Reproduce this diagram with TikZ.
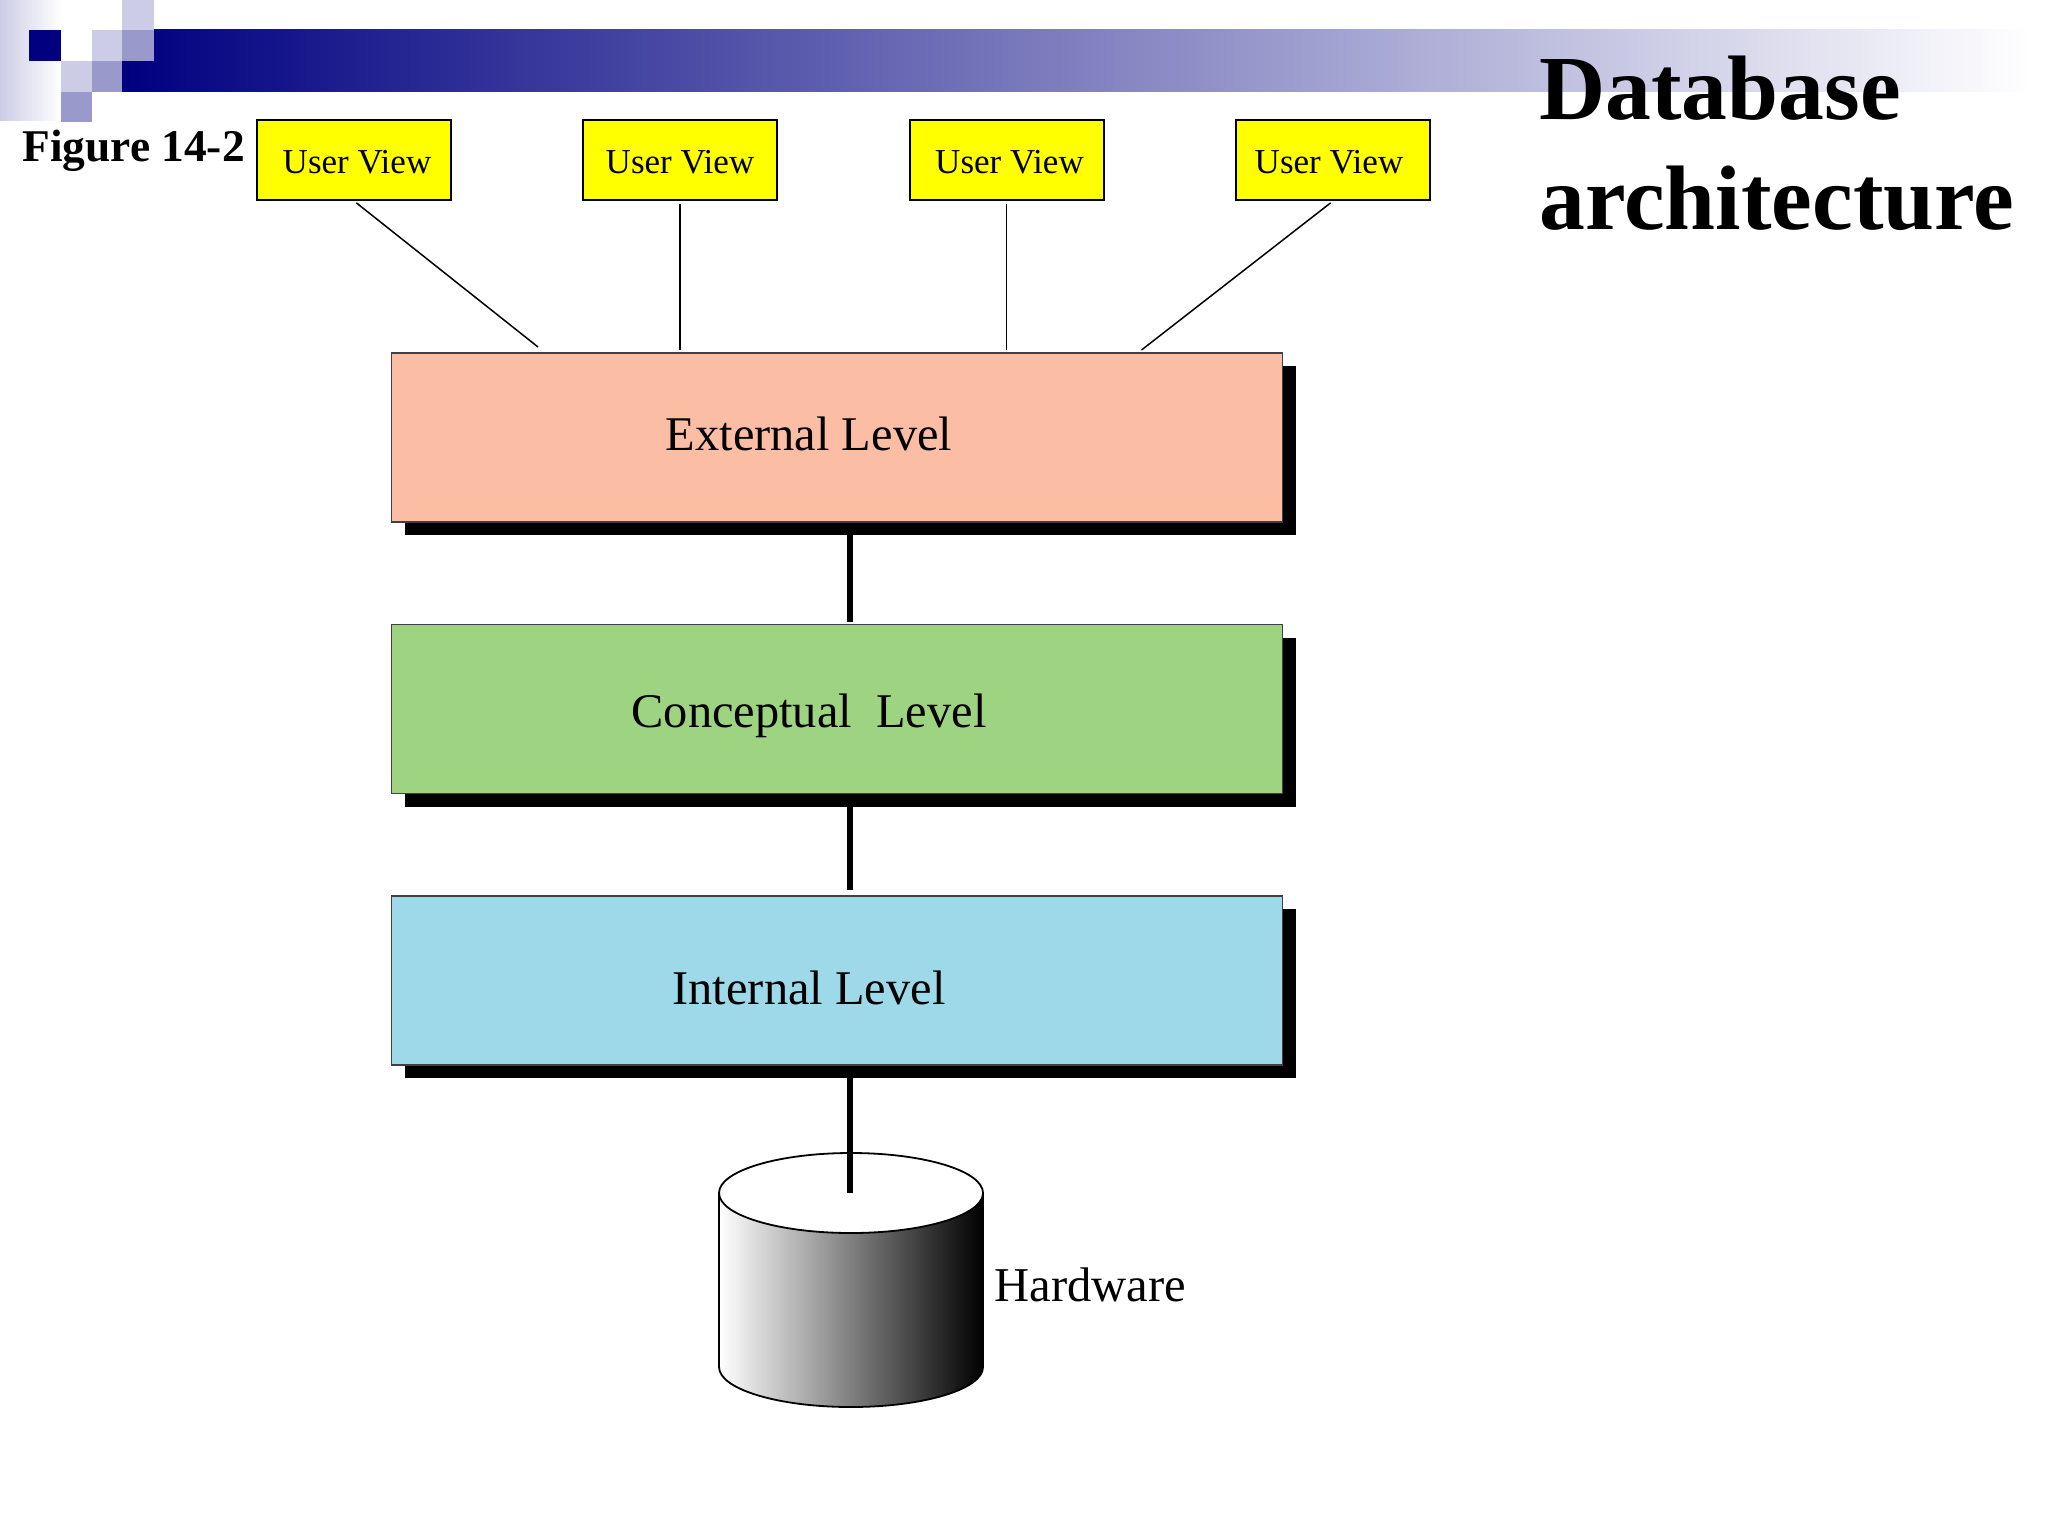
\documentclass[tikz,border=0pt]{standalone}
\usepackage{fontspec}
\setmainfont{Liberation Serif}
\usetikzlibrary{shapes.geometric,shadows}
\definecolor{barnavy}{HTML}{000080}
\definecolor{blockpale}{HTML}{CCCCE6}
\definecolor{blockmid}{HTML}{9999CC}
\definecolor{viewfill}{HTML}{FFFF00}
\definecolor{extfill}{HTML}{FCBDA5}
\definecolor{confill}{HTML}{9ED481}
\definecolor{intfill}{HTML}{9DD9E9}
\tikzset{
  viewbox/.style={draw=black,line width=1pt,fill=viewfill,inner sep=0pt,minimum width=97pt,minimum height=40pt,
    font=\fontsize{17.5pt}{20pt}\selectfont,text height=17pt,text depth=4pt},
  levelbox/.style={draw=black!75,line width=.75pt,inner sep=0pt,minimum width=445.5pt,minimum height=84.5pt,
    font=\fontsize{24.2pt}{28pt}\selectfont,text height=24pt,
    general shadow={shadow xshift=6.5pt,shadow yshift=-6.5pt,fill=black}},
  thinlink/.style={line width=.75pt,shorten <=1.5pt},
  thicklink/.style={line width=2.75pt},
  freetext/.style={inner sep=0pt,anchor=base west}
}
\begin{document}
\begin{tikzpicture}[x=.5pt,y=-.5pt]
    \useasboundingbox (0,0) rectangle (2048,1536);
    \shade[left color=blockpale,right color=white] (0,0) rectangle (61,120);
    \shade[left color=barnavy,right color=white] (122,30) rectangle (2030,92);
    \fill[barnavy] (29,30) rectangle (61,61);
    \fill[blockpale] (92,30) rectangle (122,61);
    \fill[blockmid] (122,30) rectangle (154,61);
    \fill[blockpale] (122,0) rectangle (154,30);
    \fill[blockpale] (61,61) rectangle (92,92);
    \fill[blockmid] (92,61) rectangle (122,92);
    \fill[blockmid] (61,92) rectangle (92,122);
    \node[freetext,font=\fontsize{22.7pt}{26pt}\selectfont\bfseries](figlabel)at(22,162){Figure 14-2};
    \node[inner sep=0pt,anchor=west,align=left,font=\fontsize{45.8pt}{55pt}\selectfont\bfseries](titlelabel)at(1539,143.5){Database\\architecture};
    \node[viewbox](uv1)at(354,160){\kern3pt User View};
    \node[viewbox](uv2)at(680,160){User View};
    \node[viewbox](uv3)at(1006.5,160){\kern3pt User View};
    \node[viewbox](uv4)at(1333,160){User View\kern4pt};
    \node[levelbox,fill=extfill,text depth=11.5pt](extlevel)at(837,437.5){External Level\kern28pt};
    \node[levelbox,fill=confill,text depth=6pt](conlevel)at(837,709){Conceptual\ \ Level\kern28pt};
    \node[levelbox,fill=intfill,text depth=.5pt](intlevel)at(837,980.5){Internal Level\kern28pt};
    \coordinate(ext1)at(538,347);
    \coordinate(ext2)at(680,350);
    \coordinate(ext3)at(1006.5,350);
    \coordinate(ext4)at(1141.5,350);
    \coordinate(trunk)at(850,0);
    \draw[thinlink](uv1.south)--(ext1);
    \draw[thinlink](uv2.south)--(ext2);
    \draw[thinlink](uv3.south)--(ext3);
    \draw[thinlink](uv4.south)--(ext4);
    \draw[line width=.9pt,left color=white,right color=black](719,1193)--(719,1367)
        arc[start angle=180,end angle=0,x radius=132,y radius=40]--(983,1193)--cycle;
    \node[ellipse,draw=black,line width=.9pt,fill=white,inner sep=0pt,minimum width=132pt,minimum height=40pt](disktop)at(851,1193){};
    \node[freetext,font=\fontsize{24.3pt}{28pt}\selectfont](hwlabel)at(994,1301){Hardware};
    \draw[thicklink](extlevel.south -| trunk)--++(0,99);
    \draw[thicklink](conlevel.south -| trunk)--++(0,96);
    \draw[thicklink](intlevel.south -| trunk)--(disktop.center -| trunk);
\end{tikzpicture}
\end{document}
